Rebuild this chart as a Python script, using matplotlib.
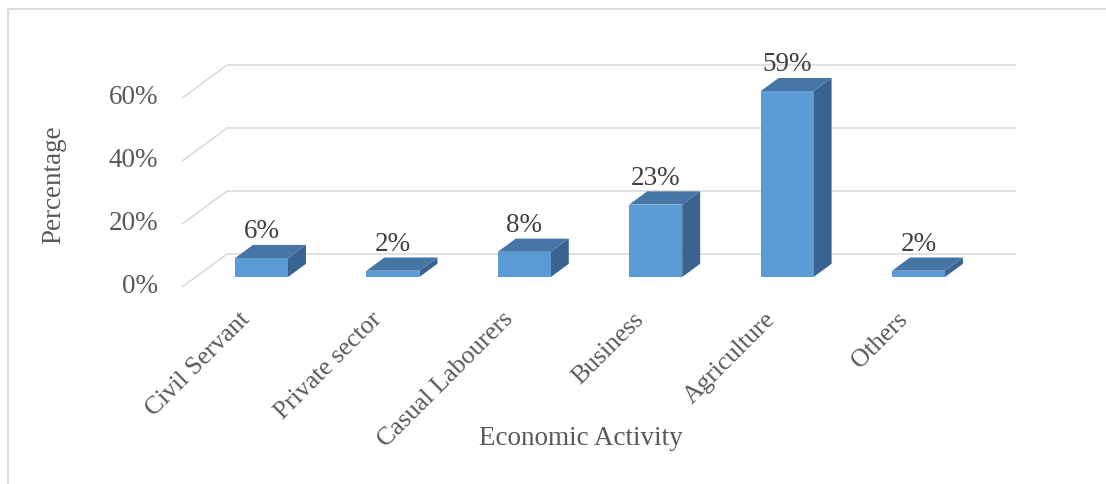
import matplotlib
matplotlib.use("Agg")
import matplotlib.pyplot as plt
from matplotlib.patches import Polygon
from matplotlib.lines import Line2D
from matplotlib.transforms import offset_copy

# ---- data ----
categories = ["Civil Servant", "Private sector", "Casual Labourers",
              "Business", "Agriculture", "Others"]
values = [6, 2, 8, 23, 59, 2]           # percent
y_ticks = [0, 20, 40, 60]
y_tick_labels = ["0%", "20%", "40%", "60%"]
x_title = "Economic Activity"
y_title = "Percentage"

# ---- styling ----
FONT = "Liberation Serif"
FS = 19.5
FS_CAT = 18.5
C_FRONT = "#5B9BD5"
C_TOP = "#4676A5"
C_SIDE = "#3A6390"
C_GRID = "#D9D9D9"
C_TEXT = "#595959"
C_LABEL = "#404040"

# oblique projection: depth 0 = front of floor, depth 1 = back wall
DX = 0.3425     # category units per unit depth
DY = 10.476     # percent units per unit depth
D_FRONT, D_BACK = 0.3, 0.7   # bar front / back planes
BAR_W = 0.403


def proj(x, v, d):
    """Map (category, value, depth) to axes data coords of the bar front plane."""
    return (x + (d - D_FRONT) * DX, v + (d - D_FRONT) * DY)


W, H, DPI = 1106, 484, 100
fig = plt.figure(figsize=(W / DPI, H / DPI), dpi=DPI)
fig.patch.set_facecolor("white")
ax = fig.add_axes([195.8 / W, 207 / H, 788.4 / W, 189 / H])
ax.set_xlim(-0.5, 5.5)
ax.set_ylim(0, 60)
ax.axis("off")

n = len(categories)
x_lo, x_hi = -0.5, n - 0.5

# back wall and side wall gridlines
for v in y_ticks:
    p0 = proj(x_lo, v, 1)
    p1 = proj(x_hi, v, 1)
    ax.plot([p0[0], p1[0]], [p0[1], p1[1]], color=C_GRID, lw=1.1,
            zorder=1, clip_on=False, solid_capstyle="butt")
    q0 = proj(x_lo, v, 0)
    ax.plot([q0[0], p0[0]], [q0[1], p0[1]], color=C_GRID, lw=1.1,
            zorder=1, clip_on=False, solid_capstyle="butt")

# bars: front faces through ax.bar, top and side faces as polygons
xs = list(range(n))
ax.bar(xs, values, width=BAR_W, color=C_FRONT, edgecolor="none",
       zorder=4, clip_on=False)
for x, v in zip(xs, values):
    l, r = x - BAR_W / 2, x + BAR_W / 2
    top = [proj(l, v, D_FRONT), proj(r, v, D_FRONT),
           proj(r, v, D_BACK), proj(l, v, D_BACK)]
    side = [proj(r, 0, D_FRONT), proj(r, v, D_FRONT),
            proj(r, v, D_BACK), proj(r, 0, D_BACK)]
    ax.add_patch(Polygon(side, closed=True, facecolor=C_SIDE,
                         edgecolor="none", zorder=3, clip_on=False))
    ax.add_patch(Polygon(top, closed=True, facecolor=C_TOP,
                         edgecolor="none", zorder=3, clip_on=False))

# value labels above bars
lab_tr = offset_copy(ax.transData, fig=fig, x=0, y=4.7, units="points")
for x, v in zip(xs, values):
    _, yb = proj(x, v, D_BACK)
    ax.text(x, yb, f"{v}%", ha="center", va="baseline", fontsize=FS,
            family=FONT, color=C_LABEL, transform=lab_tr, zorder=6,
            clip_on=False)

# y tick labels beside the side wall
ytr = offset_copy(ax.transData, fig=fig, x=-17.5, y=0, units="points")
for v, s in zip(y_ticks, y_tick_labels):
    px, py = proj(x_lo, v, 0)
    ax.text(px, py, s, ha="right", va="center", fontsize=FS, family=FONT,
            color=C_TEXT, transform=ytr, clip_on=False)

# rotated category labels under the floor front edge
xtr = offset_copy(ax.transData, fig=fig, x=-6.5, y=-15.5, units="points")
for x, s in zip(xs, categories):
    px, py = proj(x, 0, 0)
    ax.text(px, py, s, ha="right", va="top", rotation=45,
            rotation_mode="anchor", fontsize=FS_CAT, family=FONT,
            color=C_TEXT, transform=xtr, clip_on=False)

# axis titles
fig.text(581 / W, 1 - 445 / H, x_title, ha="center", va="baseline",
         fontsize=FS, family=FONT, color=C_TEXT)
fig.text(54 / W, 1 - 185 / H, y_title, ha="center", va="center",
         rotation=90, fontsize=FS, family=FONT, color=C_TEXT)

# chart area border
fig.add_artist(Line2D([8 / W, 8 / W], [0, 1 - 9 / H], color=C_GRID,
                      lw=1.3, transform=fig.transFigure))
fig.add_artist(Line2D([8 / W, 1], [1 - 9 / H, 1 - 9 / H], color=C_GRID,
                      lw=1.3, transform=fig.transFigure))

fig.savefig("out.png", dpi=DPI, facecolor="white")
